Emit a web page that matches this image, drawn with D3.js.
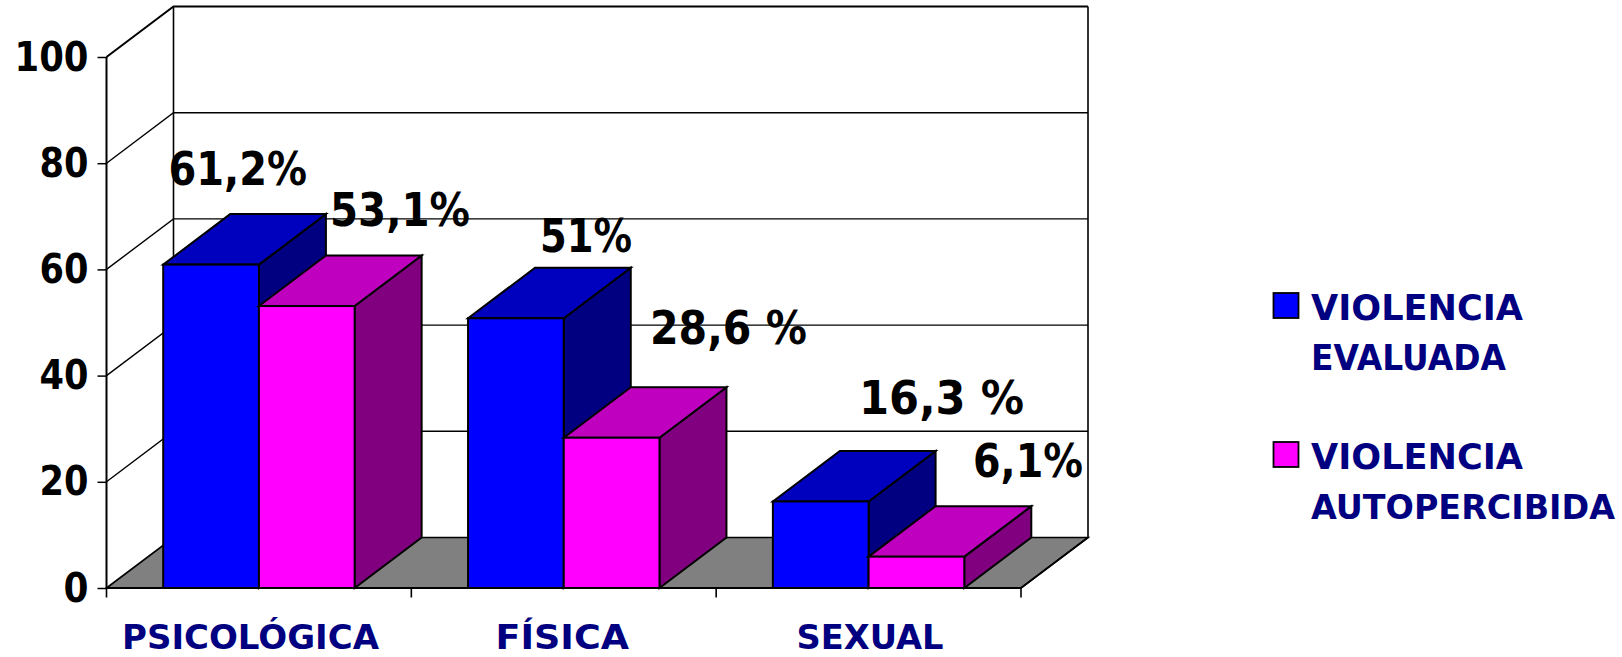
<!DOCTYPE html>
<html><head><meta charset="utf-8">
<script src="https://cdn.jsdelivr.net/npm/d3@7"></script>
<style>
html,body{margin:0;padding:0;background:#fff;overflow:hidden}
text{font-family:"DejaVu Sans",sans-serif;font-weight:bold}
</style></head><body>
<svg id="c" width="1622" height="657"></svg>
<script>
const categories = ["PSICOLÓGICA","FÍSICA","SEXUAL"];
const seriesNames = ["VIOLENCIA EVALUADA","VIOLENCIA AUTOPERCIBIDA"];
const evaluada = [60.9,50.8,16.3];
const autopercibida = [53.1,28.3,5.9];
const evaluadaLabels = ["61,2%","51%","16,3 %"];
const autopercibidaLabels = ["53,1%","28,6 %","6,1%"];
const yTicks = [0,20,40,60,80,100];

// layout (not data)
const plotLeft=106.5,plotRight=1021,plotBottom=588,plotTop=57,dx=67,dy=50.5;
const faces=[{front:"#0000ff",top:"#0000bf",side:"#000080"},{front:"#ff00ff",top:"#bf00bf",side:"#800080"}];
const valueLabelBoxes=[[[168.5,307,185],[540,632,252],[859,1024,414]],[[330,470,226],[650,807,344],[973,1083,477]]];
const catLabelBoxes=[[122,379],[495.5,629],[796.5,943.5]];
const catBaseline=649;

const svg=d3.select("#c");
const y=d3.scaleLinear().domain([0,100]).range([plotBottom,plotTop]);
const x0=d3.scaleBand().domain(categories).range([plotLeft,plotRight]);
const x1=d3.scaleBand().domain(seriesNames).range([0,x0.bandwidth()]).paddingInner(0).paddingOuter(0.5925);
const poly=pts=>pts.map(p=>p.join(",")).join(" ");

// floor
svg.append("polygon").attr("points",poly([[plotLeft,plotBottom],[plotLeft+dx,plotBottom-dy],[plotRight+dx,plotBottom-dy],[plotRight,plotBottom]]))
  .attr("fill","#808080").attr("stroke","#000").attr("stroke-width",1.6);
// walls and gridlines
const wall=svg.append("g").attr("fill","none").attr("stroke","#000").attr("stroke-width",1.4);
wall.selectAll(".g").data(yTicks.filter(d=>d>0)).join("path")
  .attr("d",d=>`M${plotLeft},${y(d)}L${plotLeft+dx},${y(d)-dy}L${plotRight+dx},${y(d)-dy}`)
  .attr("stroke-width",d=>d===100?2:1.4);
wall.append("path").attr("d",`M${plotLeft+dx},${y(100)-dy}V${y(0)-dy}`).attr("stroke-width",1.6);
wall.append("path").attr("d",`M${plotRight+dx},${y(100)-dy}V${y(0)-dy}L${plotRight},${plotBottom}`).attr("stroke-width",1.6);

// bars
const series=[evaluada,autopercibida];
categories.forEach((c,i)=>{
  seriesNames.forEach((s,j)=>{
    const v=series[j][i],xa=x0(c)+x1(s),xb=xa+x1.bandwidth(),yt=y(v),f=faces[j];
    const g=svg.append("g").attr("stroke","#000").attr("stroke-width",2).attr("stroke-linejoin","miter");
    g.append("polygon").attr("points",poly([[xb,yt],[xb+dx,yt-dy],[xb+dx,plotBottom-dy],[xb,plotBottom]])).attr("fill",f.side);
    g.append("polygon").attr("points",poly([[xa,yt],[xa+dx,yt-dy],[xb+dx,yt-dy],[xb,yt]])).attr("fill",f.top);
    g.append("rect").attr("x",xa).attr("y",yt).attr("width",xb-xa).attr("height",plotBottom-yt).attr("fill",f.front);
  });
});

// axes
const yAxis=svg.append("g").attr("transform",`translate(${plotLeft},0)`)
  .call(d3.axisLeft(y).tickValues(yTicks).tickSize(9).tickPadding(9).tickFormat(d3.format("d")));
yAxis.select(".domain").attr("stroke-width",2).attr("d",`M0,${y(100)}V${y(0)}`);
yAxis.selectAll(".tick line").attr("stroke-width",1.5);
yAxis.selectAll("text").attr("font-size",41).attr("fill","#000").attr("font-family","DejaVu Sans").attr("font-weight","bold")
  .attr("dy",null).attr("y",13).attr("text-anchor","end")
  .attr("textLength",d=>d===100?74:d===0?25:49).attr("lengthAdjust","spacingAndGlyphs");
const xAxisG=svg.append("g").attr("stroke","#000");
xAxisG.append("line").attr("x1",plotLeft).attr("x2",plotRight).attr("y1",plotBottom).attr("y2",plotBottom).attr("stroke-width",2);
xAxisG.selectAll(".t").data([...categories.map(c=>x0(c)),plotRight]).join("line")
  .attr("x1",d=>d).attr("x2",d=>d).attr("y1",plotBottom).attr("y2",plotBottom+9.5).attr("stroke-width",1.6);
svg.selectAll(".cat").data(categories).join("text").attr("class","cat")
  .attr("x",(d,i)=>catLabelBoxes[i][0]).attr("y",catBaseline).attr("fill","#000080").attr("font-size",33)
  .attr("textLength",(d,i)=>catLabelBoxes[i][1]-catLabelBoxes[i][0]).attr("lengthAdjust","spacingAndGlyphs").text(d=>d);

// value labels
[evaluadaLabels,autopercibidaLabels].forEach((labels,j)=>{
  svg.selectAll(".v"+j).data(labels).join("text").attr("class","v"+j)
    .attr("x",(d,i)=>valueLabelBoxes[j][i][0]).attr("y",(d,i)=>valueLabelBoxes[j][i][2])
    .attr("font-size",46).attr("fill","#000")
    .attr("textLength",(d,i)=>valueLabelBoxes[j][i][1]-valueLabelBoxes[j][i][0]).attr("lengthAdjust","spacingAndGlyphs").text(d=>d);
});

// legend
const legendSwatchY=[293,442],legendX=1273.5,legendTextX=1311;
const legendLines=[["VIOLENCIA","EVALUADA"],["VIOLENCIA","AUTOPERCIBIDA"]];
const legendWidths=[[212,195],[212,304]];
const legendSizes=[[36,36],[36,33]];
const legendBase=[[320,370],[469,519]];
legendLines.forEach((lines,j)=>{
  svg.append("rect").attr("x",legendX).attr("y",legendSwatchY[j]).attr("width",25).attr("height",25)
    .attr("fill",faces[j].front).attr("stroke","#000").attr("stroke-width",1.8);
  lines.forEach((t,k)=>{
    svg.append("text").attr("x",legendTextX).attr("y",legendBase[j][k]).attr("fill","#000080").attr("font-size",legendSizes[j][k])
      .attr("textLength",legendWidths[j][k]).attr("lengthAdjust","spacingAndGlyphs").text(t);
  });
});
</script></body></html>
